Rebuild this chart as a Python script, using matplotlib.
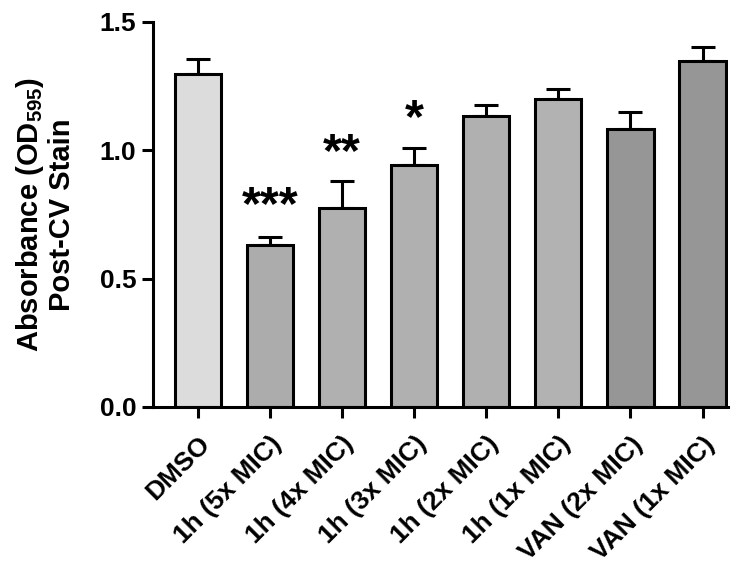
import matplotlib
matplotlib.use("Agg")
import matplotlib.pyplot as plt
import numpy as np

categories = ["DMSO", "1h (5x MIC)", "1h (4x MIC)", "1h (3x MIC)", "1h (2x MIC)",
              "1h (1x MIC)", "VAN (2x MIC)", "VAN (1x MIC)"]
means = [1.295, 0.632, 0.774, 0.942, 1.132, 1.200, 1.082, 1.348]
errors = [0.058, 0.028, 0.105, 0.067, 0.042, 0.039, 0.066, 0.053]
colors = ["#dcdcdc", "#acacac", "#b0b0b0", "#b0b0b0", "#b0b0b0", "#b2b2b2", "#969696", "#969696"]
stars = ["", "***", "**", "*", "", "", "", ""]
star_y = [0, 0.78, 0.985, 1.12, 0, 0, 0, 0]

plt.rcParams['font.family'] = ['Liberation Sans', 'DejaVu Sans']
plt.rcParams['font.weight'] = 'bold'
plt.rcParams['mathtext.fontset'] = 'custom'
plt.rcParams['mathtext.rm'] = 'Liberation Sans:bold'
plt.rcParams['mathtext.bf'] = 'Liberation Sans:bold'
plt.rcParams['mathtext.it'] = 'Liberation Sans:bold'

fig = plt.figure(figsize=(7.48, 5.67), dpi=100)
ax = fig.add_axes([0.2045, 0.2822, 0.7685, 0.6798])

x = np.arange(len(categories))
ax.bar(x, means, width=0.64, color=colors, edgecolor="black", linewidth=2.2, zorder=2)
ax.errorbar(x, means, yerr=[np.zeros(len(errors)), errors], fmt="none", ecolor="black",
            elinewidth=2.2, capsize=8.3, capthick=2.2, zorder=1)
for xi, s, sy in zip(x, stars, star_y):
    if s:
        ax.text(xi, sy, s, ha="center", va="center", fontsize=35, fontweight="bold")

ax.set_xlim(-0.62, 7.35)
ax.set_ylim(0, 1.5)
ax.set_yticks([0.0, 0.5, 1.0, 1.5])
ax.set_yticklabels(["0.0", "0.5", "1.0", "1.5"])
ax.set_xticks(x)
ax.set_xticklabels(categories, rotation=45, ha="right", rotation_mode="anchor")
ax.tick_params(axis="both", labelsize=19, width=2.2, length=8, direction="out")
ax.tick_params(axis="x", pad=10)
ax.tick_params(axis="y", pad=4)
for lab in ax.get_xticklabels() + ax.get_yticklabels():
    lab.set_fontweight("bold")
for side in ["top", "right"]:
    ax.spines[side].set_visible(False)
for side in ["left", "bottom"]:
    ax.spines[side].set_linewidth(2.2)

ax.set_ylabel("Absorbance (OD$_{595}$)\nPost-CV Stain", fontsize=21, fontweight="bold",
              labelpad=17, linespacing=1.1)

fig.savefig("out.png", dpi=100)
